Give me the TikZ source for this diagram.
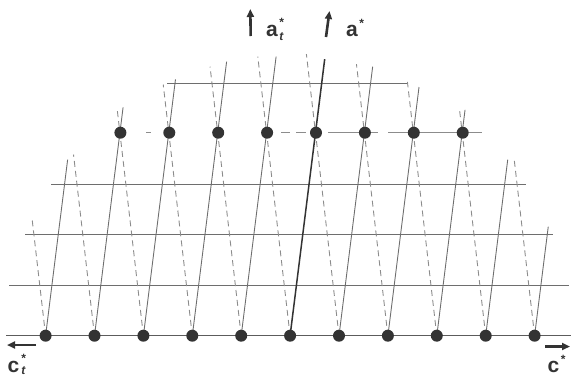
\documentclass[tikz,border=0pt]{standalone}
\usepackage{fontspec}
\setmainfont{Liberation Sans}
\usetikzlibrary{arrows.meta,calc}
\definecolor{dotc}{HTML}{333333}
\definecolor{linec}{HTML}{6E6E6E}
\definecolor{dashc}{HTML}{8C8C8C}
\newcommand{\scr}[1]{{\fontsize{12}{12}\selectfont #1}}
\tikzset{
  rowline/.style={draw=linec, line width=0.9pt},
  baseline row/.style={draw=dotc!80, line width=1.5pt},
  solidline/.style={draw=linec, line width=0.9pt},
  mainline/.style={draw=dotc, line width=1.5pt},
  dashline/.style={draw=dashc, line width=0.9pt, dash pattern=on 6pt off 4pt},
  toprow/.style={draw=dashc, line width=0.9pt},
  latdot/.style={circle, fill=dotc, inner sep=0pt, minimum size=12pt},
  lbl/.style={font=\bfseries\fontsize{21}{21}\selectfont, text=dotc, inner sep=0pt, anchor=base west},
  axarrow/.style={draw=dotc, line width=2.6pt, -{Triangle[length=8pt,width=7pt]}}
}
\begin{document}
\begin{tikzpicture}[x=1pt,y=-1pt]
\useasboundingbox (0,0) rectangle (571,376);
% lattice point positions
\foreach \i in {0,...,10} \coordinate (b\i) at ({45.6+48.9*\i},335.7);
\foreach \j in {0,...,7} \coordinate (t\j) at ({120.4+48.9*\j},132.7);
% horizontal rows
\coordinate (r0l) at (6,335.7);   \coordinate (r0r) at (571,335.7);
\coordinate (r1l) at (9,285.7);   \coordinate (r1r) at (569,285.7);
\coordinate (r2l) at (25,234.5);  \coordinate (r2r) at (553,234.5);
\coordinate (r3l) at (51,184.2);  \coordinate (r3r) at (526,184.2);
\coordinate (r5l) at (167,83.3);  \coordinate (r5r) at (408,83.3);
\draw[rowline] (r1l) -- (r1r);
\draw[rowline] (r2l) -- (r2r);
\draw[rowline] (r3l) -- (r3r);
\draw[rowline] (r5l) -- (r5r);
% broken row through the upper lattice points
\foreach \p/\q [count=\n] in {146/151,281/290,296/306,328/361,370/378,388/482}{
  \coordinate (g\n a) at (\p,132.7); \coordinate (g\n b) at (\q,132.7);
  \draw[toprow] (g\n a) -- (g\n b);
}
% dashed (a_t*) lines
\foreach \i/\k in {0/2.28,1/3.57,2/4.5,3/4.95,4/5.3,5/5.5,6/5.55,7/5.35,8/5.0,9/4.45,10/3.47}{
  \coordinate (d\i) at ($(b\i)+({-5.875*\k},{-50.75*\k})$);
  \draw[dashline] (b\i) -- (d\i);
}
% solid (a*) lines
\foreach \i/\k in {0/3.47,1/4.5,2/5.05,3/5.4,4/5.5,6/5.3,7/4.9,8/4.45,9/3.47,10/2.15}{
  \coordinate (s\i) at ($(b\i)+({6.35*\k},{-50.75*\k})$);
  \draw[solidline] (b\i) -- (s\i);
}
\coordinate (s5) at ($(b5)+({6.35*5.45},{-50.75*5.45})$);
\draw[mainline] (b5) -- (s5);
\draw[baseline row] (r0l) -- (r0r);
% lattice points
\foreach \i in {0,...,10} \node[latdot] (B\i) at (b\i) {};
\foreach \j in {0,...,7} \node[latdot] (T\j) at (t\j) {};
% axes
\coordinate (at0) at (250.7,36); \coordinate (at1) at (250.3,9);
\coordinate (a0) at (326,37);    \coordinate (a1) at (329.5,11);
\draw[axarrow] (at0) -- (at1);
\draw[axarrow] (a0) -- (a1);
\node[lbl] (latl) at (266,36) {a\kern1.5pt\rlap{\raisebox{0.45em}{\scr{*}}}\raisebox{-0.2em}{\scr{\itshape t}}};
\node[lbl] (lal) at (346,36) {a\kern1.5pt\raisebox{0.42em}{\scr{*}}};
\coordinate (ct0) at (36,345); \coordinate (ct1) at (7,345);
\coordinate (c0) at (545,346.5); \coordinate (c1) at (570,346.5);
\draw[axarrow] (ct0) -- (ct1);
\draw[axarrow] (c0) -- (c1);
\node[lbl] (lct) at (7.5,372.5) {c\kern2pt\rlap{\raisebox{0.5em}{\scr{*}}}\raisebox{-0.1em}{\scr{\itshape t}}};
\node[lbl] (lc) at (547.5,372.5) {c\kern1.5pt\raisebox{0.45em}{\scr{*}}};
\end{tikzpicture}
\end{document}
